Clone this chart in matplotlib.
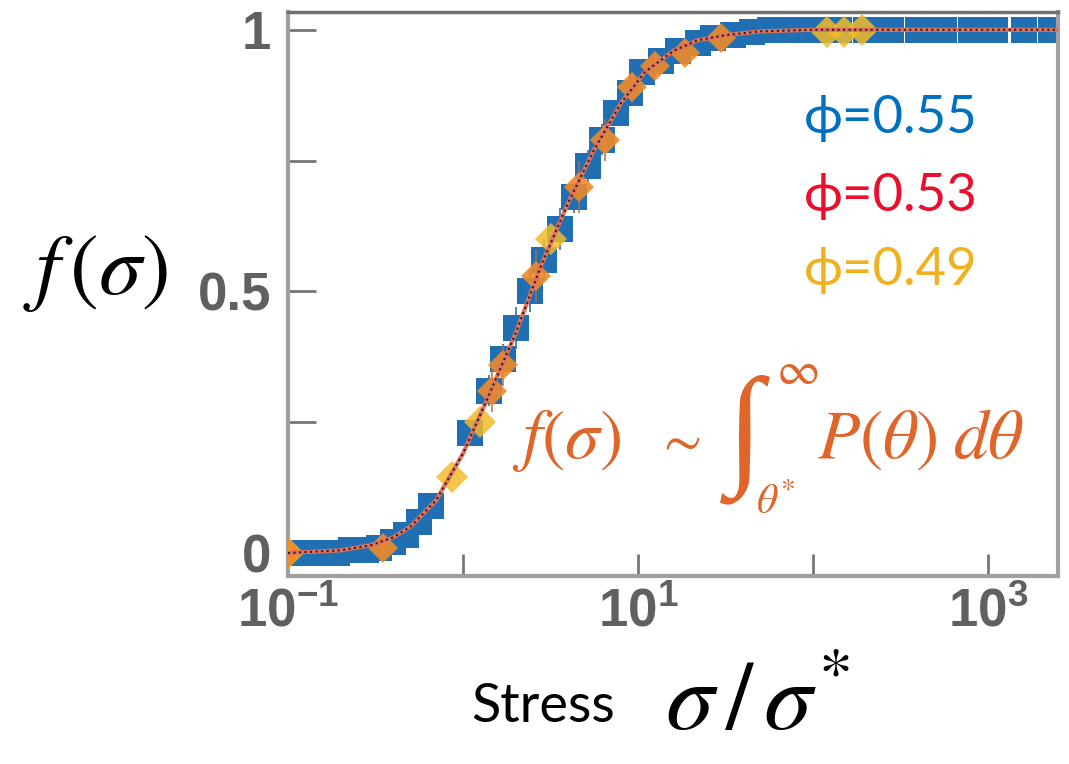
import numpy as np
import matplotlib.pyplot as plt

plt.rcParams['font.family'] = ['Liberation Sans', 'DejaVu Sans']
plt.rcParams['mathtext.default'] = 'it'

# phi = 0.55, blue squares
blue_x = [0.11, 0.13, 0.16, 0.19, 0.23, 0.28, 0.33, 0.40, 0.47, 0.56, 0.66,
          1.1, 1.4, 1.7, 2.0, 2.4, 2.9, 3.6, 4.3, 5.2, 6.2, 7.5, 9.0, 10.5,
          13.5, 17, 22, 27, 35, 45, 57, 75, 100, 140, 200, 280, 400, 560,
          800, 1100, 1600, 2300]
blue_y = [0.0, 0.0, 0.0, 0.0, 0.005, 0.005, 0.01, 0.02, 0.035, 0.06, 0.09,
          0.23, 0.31, 0.37, 0.43, 0.50, 0.56, 0.62, 0.68, 0.74, 0.79, 0.84,
          0.88, 0.92, 0.94, 0.96, 0.975, 0.985, 0.99, 0.995, 1.0, 1.0, 1.0,
          1.0, 1.0, 1.0, 1.0, 1.0, 1.0, 1.0, 1.0, 1.0]
blue_err = [0.0, 0.0, 0.0, 0.0, 0.0, 0.0, 0.0, 0.0, 0.0, 0.01, 0.01,
            0.02, 0.03, 0.03, 0.04, 0.04, 0.04, 0.04, 0.03, 0.03, 0.03, 0.02,
            0.02, 0.02, 0.01, 0.01, 0.0, 0.0, 0.0, 0.0, 0.0, 0.0, 0.0,
            0.0, 0.0, 0.0, 0.0, 0.0, 0.0, 0.0, 0.0, 0.0]

# phi = 0.53, orange markers
orange_x = [0.1, 0.35, 1.46, 1.7, 2.6, 4.6, 6.5, 9.2, 12.5, 18.5, 30]
orange_y = [0.0, 0.01, 0.31, 0.36, 0.53, 0.70, 0.79, 0.89, 0.93, 0.956, 0.985]
orange_err = [0.0, 0.01, 0.04, 0.04, 0.05, 0.05, 0.04, 0.03, 0.02, 0.01, 0.0]

# phi = 0.49, yellow markers
yellow_x = [0.1, 0.87, 1.25, 3.2, 120, 150, 190]
yellow_y = [0.0, 0.145, 0.25, 0.60, 0.995, 0.995, 1.0]

# fitted curve
fit_x = [0.1, 0.2, 0.3, 0.4, 0.5, 0.7, 1.0, 1.4, 2.0, 2.8, 4.0, 5.6, 8.0,
         11, 16, 22, 32, 50, 100, 2500]
fit_y = [0.0, 0.005, 0.015, 0.03, 0.05, 0.10, 0.19, 0.30, 0.42, 0.55, 0.67,
         0.77, 0.86, 0.92, 0.96, 0.98, 0.99, 0.997, 1.0, 1.0]

W, H = 1069, 764


def px(x, y):
    # pixel position -> figure fraction
    return x / W, 1 - y / H


fig = plt.figure(figsize=(10.69, 7.64), dpi=100)
ax = fig.add_axes([0.2694, 0.2461, 0.7203, 0.7382])

ax.errorbar(blue_x, blue_y, yerr=blue_err, fmt='s', color='#1f6fb2',
            ecolor='#4a6a90', elinewidth=1.2, capsize=9, markersize=19,
            markeredgewidth=0, zorder=2)
ax.errorbar(orange_x, orange_y, yerr=orange_err, fmt='D', color='#f08a2a',
            ecolor='#a07050', elinewidth=1.2, capsize=9, markersize=15,
            markeredgewidth=0, alpha=0.9, zorder=3)
ax.plot(yellow_x, yellow_y, 'D', color='#f2bb2a', markersize=16,
        markeredgewidth=0, alpha=0.85, zorder=3)
ax.plot(fit_x, fit_y, '-', color='#e2705c', lw=3, zorder=4)
ax.plot(fit_x, fit_y, ':', color='#222222', lw=1.5, zorder=5)

ax.set_xscale('log')
ax.set_xlim(0.1, 2512)
ax.set_ylim(-0.044, 1.034)

ax.set_xticks([0.1, 1, 10, 100, 1000])
ax.set_xticklabels([r'$\mathregular{10^{-1}}$', '', r'$\mathregular{10^{1}}$',
                    '', r'$\mathregular{10^{3}}$'])
ax.xaxis.set_minor_locator(plt.NullLocator())
ax.set_yticks([0, 0.25, 0.5, 0.75, 1])
ax.set_yticklabels(['0', '', '0.5', '', '1'])

ax.tick_params(axis='both', direction='in', colors='#777777', width=2,
               labelsize=38, labelcolor='#606060')
ax.tick_params(axis='y', length=20, pad=12)
ax.tick_params(axis='x', length=16, pad=8)
for lab in ax.get_xticklabels() + ax.get_yticklabels():
    lab.set_fontweight('bold')
for side in ['left', 'bottom', 'right']:
    ax.spines[side].set_color('#a0a0a0')
    ax.spines[side].set_linewidth(3)
ax.spines['top'].set_color('#707070')
ax.spines['top'].set_linewidth(2.5)

# axis labels
fig.text(*px(96, 273), r'$f\,(\sigma)$', fontsize=62, ha='center',
         va='center', math_fontfamily='stix')
fig.text(*px(543, 706), 'Stress', fontsize=39, ha='center', va='center',
         family=['Lato', 'DejaVu Sans'])
fig.text(*px(757, 705), r'$\sigma\,/\,\sigma^{*}$', fontsize=70,
         ha='center', va='center', math_fontfamily='stix')

# legend text
phi_labels = ['\u03d5=0.55', '\u03d5=0.53', '\u03d5=0.49']
phi_colors = ['#0070c0', '#e8102e', '#f0b020']
phi_y = [118, 197, 270]
for lab, col, yy in zip(phi_labels, phi_colors, phi_y):
    fig.text(*px(891, yy), lab, fontsize=38, color=col, ha='center',
             va='center', family=['Lato', 'DejaVu Sans'])

# formula, built from pieces
fc = '#e0652a'
fig.text(*px(512, 440), r'$f(\sigma)$', fontsize=50, color=fc,
         ha='left', va='center', math_fontfamily='stix')
fig.text(*px(678, 442), r'$\sim$', fontsize=40, color=fc,
         ha='center', va='center', math_fontfamily='stix')
fig.text(*px(745, 439), '\u222b', fontsize=95, color=fc, ha='center',
         va='center', family=['Liberation Serif', 'DejaVu Serif'])
fig.text(*px(797, 372), r'$\infty$', fontsize=34, color=fc, ha='center',
         va='center', math_fontfamily='stix')
fig.text(*px(776, 503), r'$\theta^{*}$', fontsize=30, color=fc, ha='center',
         va='center', math_fontfamily='stix')
fig.text(*px(817, 440), r'$P(\theta)\;d\theta$', fontsize=50, color=fc,
         ha='left', va='center', math_fontfamily='stix')

fig.savefig('out.png', dpi=100)
